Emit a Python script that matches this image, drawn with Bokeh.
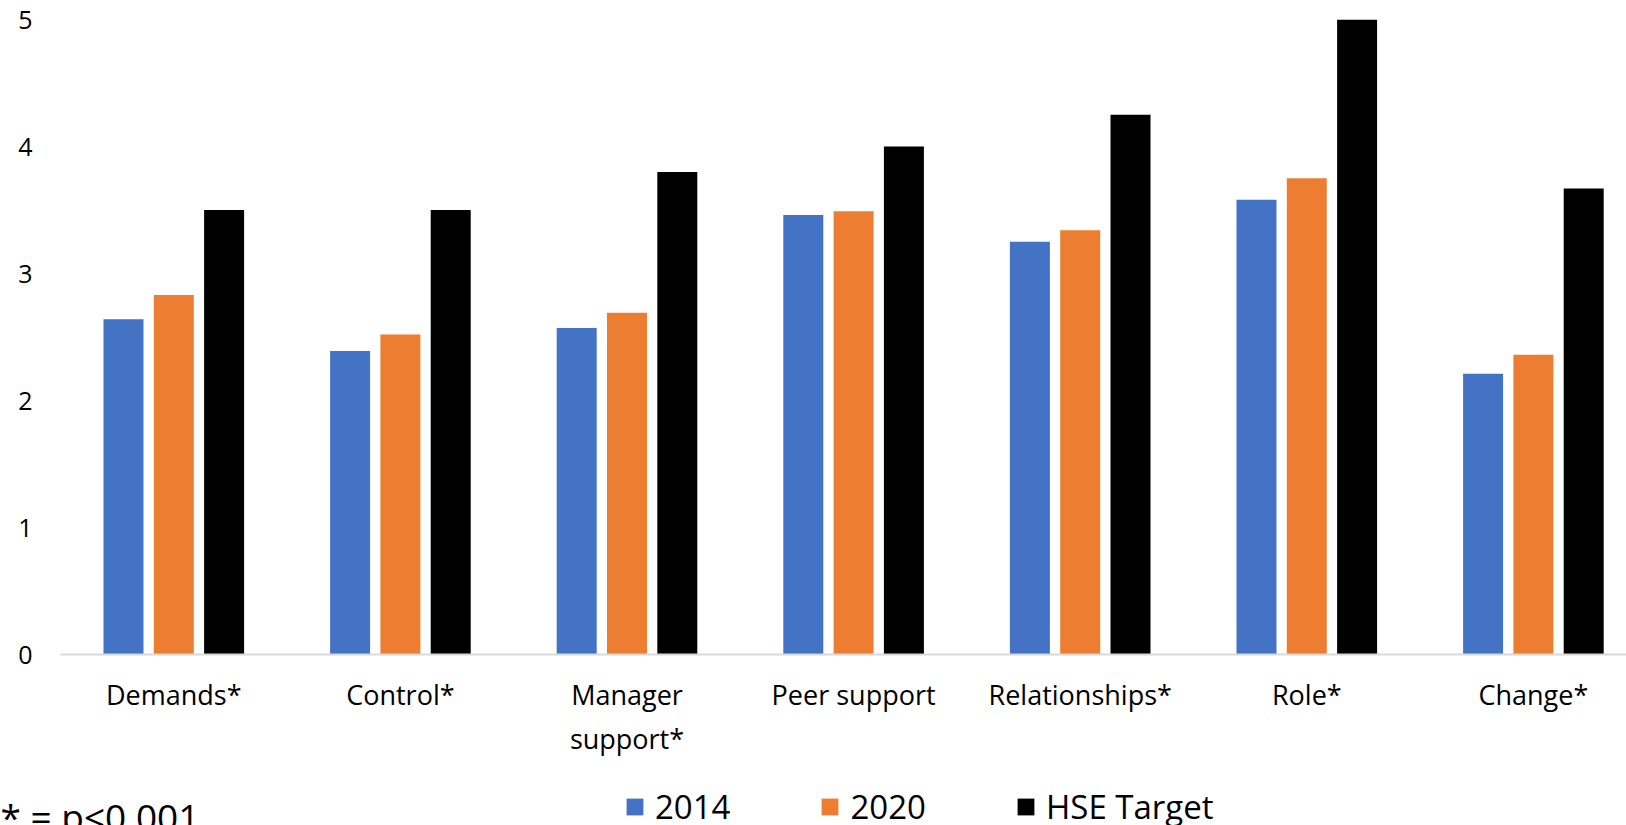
from bokeh.plotting import figure
from bokeh.layouts import column
from bokeh.models import ColumnDataSource, Range1d, Legend, LegendItem, FixedTicker, Label
from bokeh.transform import dodge
from bokeh.embed import file_html
from bokeh.resources import INLINE

categories = ["Demands*", "Control*", "Manager\nsupport*", "Peer support", "Relationships*", "Role*", "Change*"]
values_2014 = [2.64, 2.39, 2.57, 3.46, 3.25, 3.58, 2.21]
values_2020 = [2.83, 2.52, 2.69, 3.49, 3.34, 3.75, 2.36]
values_hse = [3.50, 3.50, 3.80, 4.00, 4.25, 5.00, 3.67]
series_names = ["2014", "2020", "HSE Target"]
y_ticks = [0, 1, 2, 3, 4, 5]
footnote = "* = p<0.001"

FONT = "Open Sans"
colors = ["#4472C4", "#ED7D31", "#000000"]
fields = ["s2014", "s2020", "hse"]

idx = list(range(len(categories)))
src = ColumnDataSource(dict(i=idx, s2014=values_2014, s2020=values_2020, hse=values_hse))

# each category occupies 226.6 px; the chart is cut at the right edge of the window
cat_px = 226.6
frame_w = 1626 - 60
p = figure(x_range=Range1d(-0.5, -0.5 + frame_w / cat_px), y_range=Range1d(0, 5),
           width=1626, height=780, output_backend="svg", toolbar_location=None,
           min_border_left=60, min_border_right=0, min_border_top=19, min_border_bottom=126)
p.frame_align = False
p.outline_line_color = None
p.xgrid.grid_line_color = None
p.ygrid.grid_line_color = None

offsets = [-0.222, 0.0, 0.222]
for f, off, c in zip(fields, offsets, colors):
    p.vbar(x=dodge("i", off), top=f, width=0.1765, source=src, fill_color=c, line_color=None)

# axes
p.yaxis.ticker = FixedTicker(ticks=y_ticks)
p.yaxis.axis_line_color = None
p.yaxis.major_tick_line_color = None
p.yaxis.minor_tick_line_color = None
p.yaxis.major_tick_out = 0
p.yaxis.major_tick_in = 0
p.yaxis.major_label_standoff = 28
p.yaxis.major_label_text_font = FONT
p.yaxis.major_label_text_font_size = "25px"
p.yaxis.major_label_text_color = "#000000"

p.xaxis.ticker = FixedTicker(ticks=idx)
p.xaxis.major_label_overrides = {i: c for i, c in zip(idx, categories)}
p.xaxis.axis_line_color = "#d9d9d9"
p.xaxis.axis_line_width = 2
p.xaxis.major_tick_line_color = None
p.xaxis.minor_tick_line_color = None
p.xaxis.major_tick_out = 0
p.xaxis.major_tick_in = 0
p.xaxis.major_label_standoff = 21
p.xaxis.major_label_text_font = FONT
p.xaxis.major_label_text_font_size = "27px"
p.xaxis.major_label_text_color = "#000000"

# bottom strip: legend + footnote
p2 = figure(x_range=Range1d(0, 1), y_range=Range1d(0, 5), width=1626, height=45,
            output_backend="svg", toolbar_location=None,
            x_axis_location=None, y_axis_location=None,
            min_border_left=0, min_border_right=0, min_border_top=0, min_border_bottom=0)
p2.frame_align = False
p2.grid.visible = False
p2.outline_line_color = None
legend_rs = [p2.vbar(x=dodge("i", off), top=f, width=0.1765, source=src, fill_color=c,
                     line_color=None, visible=False)
             for f, off, c in zip(fields, offsets, colors)]

legend = Legend(items=[LegendItem(label=n, renderers=[r]) for n, r in zip(series_names, legend_rs)],
                orientation="horizontal", location=(624, -4),
                label_text_font=FONT, label_text_font_size="33px", label_text_color="#000000",
                glyph_width=21, glyph_height=21, label_standoff=10, spacing=89,
                padding=0, margin=0, border_line_color=None, background_fill_alpha=0)
p2.add_layout(legend, "center")
p2.add_layout(Label(x=0, y=35, x_units="screen", y_units="screen", text=footnote,
                    text_baseline="top", text_font=FONT, text_font_size="37px", text_color="#000000"))

open("out.html", "w").write(file_html(column(p, p2, spacing=0), INLINE))
